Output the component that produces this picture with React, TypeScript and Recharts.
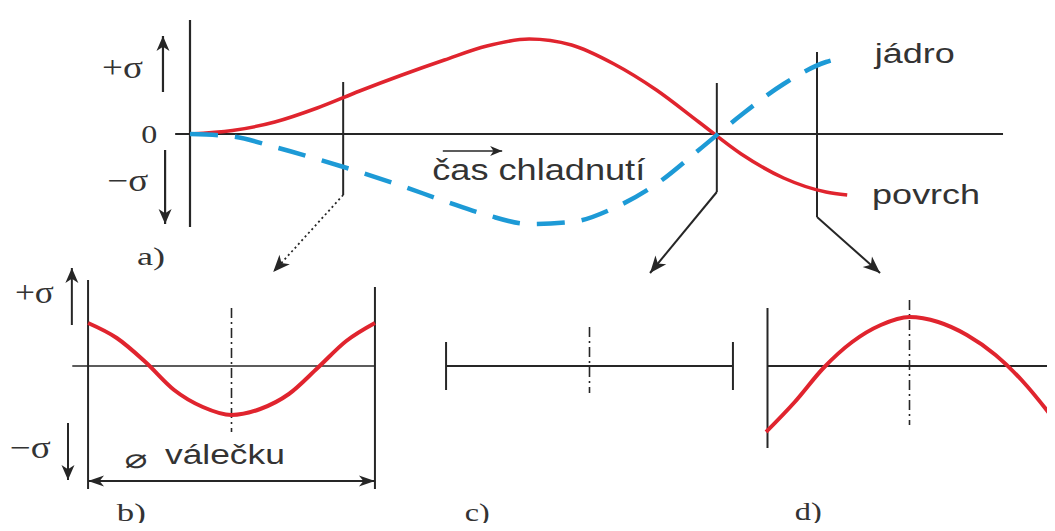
import React from "react";
import { LineChart, Line, XAxis, YAxis, ReferenceLine, ReferenceDot } from "recharts";

// a) stress during cooling, surface (povrch) and core (jádro)
const coolingTime = [0, 8, 16, 24, 32, 40, 48, 56, 64, 72, 80, 88, 96, 104, 112, 120, 124];
const surfaceStress = [0, 0.035, 0.12, 0.26, 0.43, 0.59, 0.74, 0.88, 0.95, 0.89, 0.7, 0.44, 0.12, -0.2, -0.44, -0.58, -0.61];
const coreStress = [0, -0.025, -0.13, -0.25, -0.38, -0.52, -0.67, -0.81, -0.9, -0.88, -0.74, -0.5, -0.16, 0.19, 0.5, 0.72, 0.77];

// moments picked on the time axis -> cross-section profiles b), c), d)
const sectionTimes = [28.9, 99.4, 118.3];

// position across the roll diameter (r = -1 .. 1)
const radius = [-1, -0.8, -0.6, -0.4, -0.2, 0, 0.2, 0.4, 0.6, 0.8, 1];
const profileBStress = [0.43, 0.28, 0.04, -0.24, -0.41, -0.49, -0.43, -0.28, -0.02, 0.25, 0.43];
const profileDStress = [-0.66, -0.36, -0.02, 0.24, 0.41, 0.49, 0.44, 0.31, 0.11, -0.17, -0.52];

const zip = (xs: number[], ys: number[]) => xs.map((x, i) => ({ x, y: ys[i] }));

const surfaceData = zip(coolingTime, surfaceStress);
const coreData = zip(coolingTime, coreStress);
const profileB = zip(radius, profileBStress);
const profileD = zip(radius, profileDStress);

const ink = "#262626";
const red = "#e0242e";
const blue = "#1d9ad6";
const sans = "'Liberation Sans', Arial, sans-serif";
const serif = "'Liberation Serif', 'Times New Roman', serif";
const dashDot = "10 4 2 4";

type ArrowOpts = { start?: boolean; end?: boolean; len?: number; wid?: number; dash?: string; width?: number };

// arrowhead polygon with its tip at (tx, ty), pointing along (ux, uy)
const headPoints = (tx: number, ty: number, ux: number, uy: number, len: number, wid: number) => {
  const nx = -uy;
  const ny = ux;
  const bx = tx - ux * len;
  const by = ty - uy * len;
  const mx = tx - ux * len * 0.72;
  const my = ty - uy * len * 0.72;
  return [
    [tx, ty],
    [bx + (nx * wid) / 2, by + (ny * wid) / 2],
    [mx, my],
    [bx - (nx * wid) / 2, by - (ny * wid) / 2],
  ]
    .map((p) => p.join(","))
    .join(" ");
};

const arrow = (o: ArrowOpts) => (p: any) => {
  const { x1, y1, x2, y2 } = p;
  const d = Math.hypot(x2 - x1, y2 - y1) || 1;
  const ux = (x2 - x1) / d;
  const uy = (y2 - y1) / d;
  const len = o.len ?? 17;
  const wid = o.wid ?? 14;
  return (
    <g>
      <line x1={x1} y1={y1} x2={x2} y2={y2} stroke={ink} strokeWidth={o.width ?? 2} strokeDasharray={o.dash} />
      {o.end && <polygon points={headPoints(x2, y2, ux, uy, len, wid)} fill={ink} />}
      {o.start && <polygon points={headPoints(x1, y1, -ux, -uy, len, wid)} fill={ink} />}
    </g>
  );
};

const caption = (value: string, size: number, family: string, length?: number) => (p: any) => (
  <text
    x={p.cx}
    y={p.cy}
    fontSize={size}
    fontFamily={family}
    fill="#333"
    textLength={length}
    lengthAdjust="spacingAndGlyphs"
  >
    {value}
  </text>
);

const Seg = ({ from, to, color = ink, width = 1.8, dash }: { from: number[]; to: number[]; color?: string; width?: number; dash?: string }) => (
  <ReferenceLine
    segment={[{ x: from[0], y: from[1] }, { x: to[0], y: to[1] }]}
    stroke={color}
    strokeWidth={width}
    strokeDasharray={dash}
    ifOverflow="visible"
  />
);

const Arrow = ({ from, to, ...o }: { from: number[]; to: number[] } & ArrowOpts) => (
  <ReferenceLine
    segment={[{ x: from[0], y: from[1] }, { x: to[0], y: to[1] }]}
    ifOverflow="visible"
    shape={arrow({ end: true, ...o })}
  />
);

const Note = ({ at, text, size, family, length }: { at: number[]; text: string; size: number; family: string; length?: number }) => (
  <ReferenceDot x={at[0]} y={at[1]} r={0} ifOverflow="visible" shape={caption(text, size, family, length)} />
);

const box = (left: number, top: number): React.CSSProperties => ({ position: "absolute", left, top });

const Profile = ({ left, children }: { left: number; children: React.ReactNode }) => (
  <div style={box(left, 260)}>
    <LineChart width={459} height={271} margin={{ top: 0, right: 0, bottom: 0, left: 0 }}>
      <XAxis type="number" dataKey="x" domain={[-1.6, 1.6]} hide allowDataOverflow />
      <YAxis type="number" dataKey="y" domain={[-1.65, 1.06]} hide allowDataOverflow />
      {children}
    </LineChart>
  </div>
);

export default function App() {
  return (
    <div
      style={{
        position: "relative",
        width: 1055,
        height: 531,
        margin: -8,
        overflow: "hidden",
        background: "#fff",
      }}
    >
      <div style={{ position: "absolute", left: 425, top: 0, width: 54, height: 2, background: "#1a1aff" }} />

      {/* a) stress over cooling time */}
      <div style={box(-22, 0)}>
        <LineChart width={1060} height={300} margin={{ top: 0, right: 0, bottom: 0, left: 0 }}>
          <XAxis type="number" dataKey="x" domain={[-40, 160]} hide allowDataOverflow />
          <YAxis type="number" dataKey="y" domain={[-1.66, 1.34]} hide allowDataOverflow />
          <Seg from={[0, 1.14]} to={[0, -0.93]} width={2.2} />
          <Seg from={[-2.8, 0]} to={[153.4, 0]} width={1.8} />
          <Arrow from={[-5.1, 0.42]} to={[-5.1, 0.98]} width={2.2} len={15} wid={13} />
          <Arrow from={[-4.7, -0.16]} to={[-4.7, -0.9]} width={2.2} len={15} wid={13} />
          <Arrow from={[47.7, -0.17]} to={[58.9, -0.17]} len={12} wid={10} width={1.6} />

          <Seg from={[sectionTimes[0], 0.52]} to={[sectionTimes[0], -0.61]} width={2} />
          <Arrow from={[sectionTimes[0], -0.61]} to={[15.7, -1.38]} dash="2 3" width={1.8} />
          <Seg from={[sectionTimes[1], 0.51]} to={[sectionTimes[1], -0.58]} width={2} />
          <Arrow from={[sectionTimes[1], -0.58]} to={[86.8, -1.39]} width={2} />
          <Seg from={[sectionTimes[2], 0.82]} to={[sectionTimes[2], -0.83]} width={2} />
          <Arrow from={[sectionTimes[2], -0.83]} to={[130.2, -1.39]} width={2} />

          <Line
            data={surfaceData}
            dataKey="y"
            type="monotone"
            stroke={red}
            strokeWidth={3.5}
            dot={false}
            isAnimationActive={false}
          />
          <Line
            data={coreData}
            dataKey="y"
            type="monotone"
            stroke={blue}
            strokeWidth={4.5}
            strokeDasharray="28 17"
            dot={false}
            isAnimationActive={false}
          />

          <Note at={[-16.6, 0.56]} text="+σ" size={31} family={serif} length={41} />
          <Note at={[-9.2, -0.09]} text="0" size={25} family={serif} length={16} />
          <Note at={[-15.6, -0.57]} text="−σ" size={31} family={serif} length={41} />
          <Note at={[-10, -1.31]} text="a)" size={25} family={serif} length={28} />
          <Note at={[45.7, -0.46]} text="čas chladnutí" size={30} family={sans} length={213} />
          <Note at={[129.2, 0.71]} text="jádro" size={27} family={sans} length={80} />
          <Note at={[128.7, -0.7]} text="povrch" size={27} family={sans} length={108} />
        </LineChart>
      </div>

      {/* b) profile across the diameter */}
      <Profile left={2}>
        <Seg from={[-1, 0.86]} to={[-1, -1.23]} width={2} />
        <Seg from={[1, 0.79]} to={[1, -1.23]} width={2} />
        <Seg from={[-1.11, 0]} to={[1, 0]} width={1.6} />
        <Seg from={[0, 0.58]} to={[0, -0.66]} width={1.6} dash={dashDot} />
        <Arrow from={[-1.113, 0.41]} to={[-1.113, 0.98]} width={2} len={15} wid={13} />
        <Arrow from={[-1.14, -0.57]} to={[-1.14, -1.14]} width={2} len={15} wid={13} />
        <ReferenceLine
          segment={[{ x: -1, y: -1.15 }, { x: 1, y: -1.15 }]}
          ifOverflow="visible"
          shape={arrow({ start: true, end: true, width: 1.8, len: 16, wid: 11 })}
        />
        <Line
          data={profileB}
          dataKey="y"
          type="monotone"
          stroke={red}
          strokeWidth={4}
          dot={false}
          isAnimationActive={false}
        />
        <Note at={[-1.51, 0.63]} text="+σ" size={31} family={serif} length={39} />
        <Note at={[-1.545, -0.92]} text="−σ" size={31} family={serif} length={41} />
        <Note at={[-0.745, -1.02]} text="⌀" size={27} family="'DejaVu Sans', sans-serif" length={23} />
        <Note at={[-0.464, -0.98]} text="válečku" size={27} family={sans} length={120} />
        <Note at={[-0.8, -1.55]} text="b)" size={25} family={serif} length={29} />
      </Profile>

      {/* c) no stress across the section */}
      <Profile left={360}>
        <Seg from={[-1, 0]} to={[1, 0]} width={1.8} />
        <Seg from={[-1, 0.24]} to={[-1, -0.24]} width={2} />
        <Seg from={[1, 0.24]} to={[1, -0.24]} width={2} />
        <Seg from={[0, 0.39]} to={[0, -0.27]} width={1.6} dash={dashDot} />
        <Note at={[-0.87, -1.55]} text="c)" size={25} family={serif} length={25} />
      </Profile>

      {/* d) profile after cooling */}
      <Profile left={680}>
        <Seg from={[-0.99, 0.58]} to={[-0.99, -0.82]} width={2} />
        <Seg from={[-0.99, 0]} to={[1.2, 0]} width={1.8} />
        <Seg from={[0, 0.66]} to={[0, -0.59]} width={1.6} dash={dashDot} />
        <Line
          data={profileD}
          dataKey="y"
          type="monotone"
          stroke={red}
          strokeWidth={4}
          dot={false}
          isAnimationActive={false}
        />
        <Note at={[-0.8, -1.54]} text="d)" size={25} family={serif} length={27} />
      </Profile>
    </div>
  );
}
